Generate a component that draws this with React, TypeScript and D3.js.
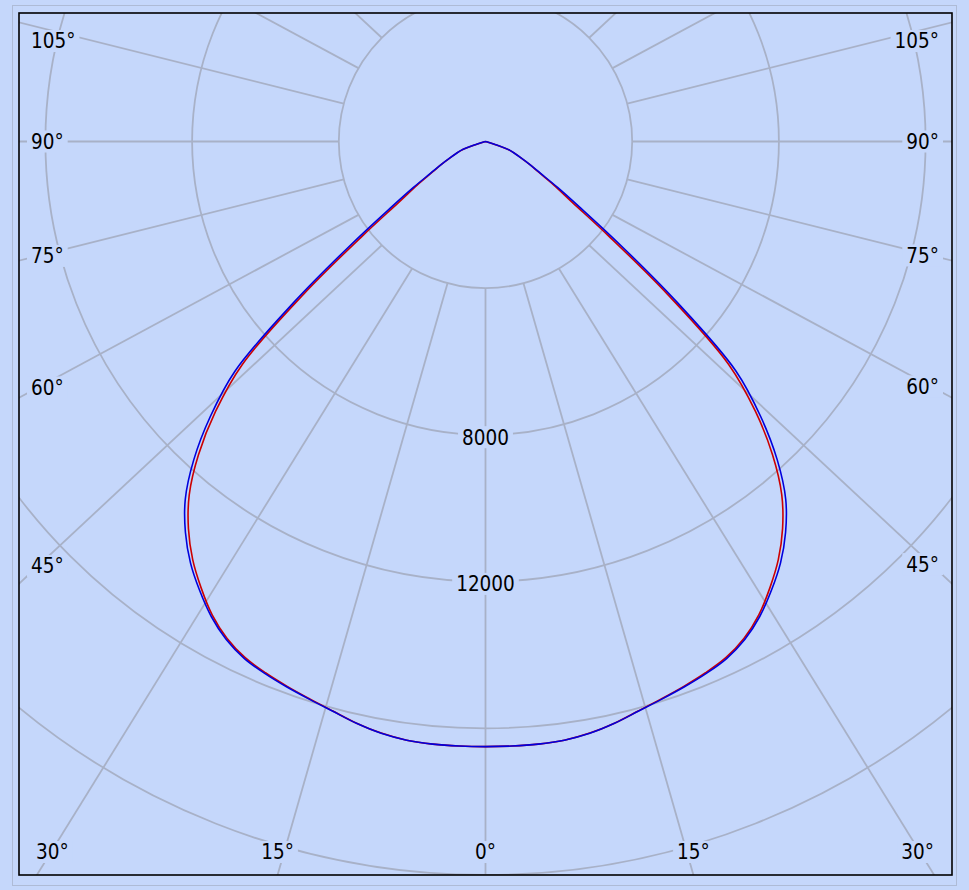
import React from 'react'
import * as d3 from 'd3'

// polar candela diagram, two C-planes (angles from nadir, one half, mirrored)
const gamma = [0, 2.5, 5, 7.5, 10, 12.5, 15, 17.5, 20, 22.5, 25, 27.5, 30, 32.5, 35, 37.5, 40, 42.5, 45, 47.5, 50, 52.5, 55, 57.5, 60, 62.5, 65, 67.5, 70, 72.5, 75, 77.5, 80, 82.5, 85, 87.5, 90]
const redCd = [16500, 16500, 16495, 16465, 16380, 16245, 16077, 15936, 15810, 15679, 15522, 15270, 14905, 14431, 13919, 13306, 12566, 11584, 10410, 8987, 6474, 4235, 2880, 2210, 1675, 1365, 1085, 870, 705, 270, 50, 0, 0, 0, 0, 0, 0]
const blueCd = [16500, 16500, 16495, 16465, 16385, 16250, 16085, 15950, 15830, 15705, 15555, 15310, 14955, 14510, 14025, 13440, 12735, 11775, 10615, 9260, 6815, 4635, 3180, 2330, 1725, 1375, 1090, 875, 710, 275, 55, 0, 0, 0, 0, 0, 0]

const rings = [4000, 8000, 12000, 16000, 20000, 24000]
const ringLabels = [8000, 12000]
const spokes = d3.range(-180, 181, 15)
const angleLabels = [0, 15, 30, 45, 60, 75, 90, 105]

const W = 969, H = 890
const plot = { left: 19, top: 13, right: 952, bottom: 875 }
const cx = (plot.left + plot.right) / 2
const cy = 141.5
const bg = '#c5d7fb'
const gridColor = '#a8b1c7'
const fs = 20.5
const ySquash = 0.94 // spokes come out a bit flatter than the rings

const rScale = d3.scaleLinear().domain([0, 20000]).range([0, plot.bottom - cy])
const rad = (deg: number) => deg * Math.PI / 180

function spokeEnds(deg: number) {
  const a = rad(deg)
  const r0 = rScale(4000)
  const p1 = [cx + r0 * Math.sin(a), cy + r0 * Math.cos(a)]
  const R = 1400
  const p2 = [cx + R * Math.sin(a), cy + R * ySquash * Math.cos(a)]
  return [p1, p2]
}

function textWidth(s: string) {
  let w = 0
  for (const ch of s) w += ch === '°' ? 0.45 * fs : 0.572 * fs
  return w
}

function angleLabelPos(deg: number) {
  const [p1, p2] = spokeEnds(deg)
  const dx = p2[0] - p1[0], dy = p2[1] - p1[1]
  const label = `${Math.abs(deg)}°`
  const w = textWidth(label)
  if (dy > 0) {
    const t = (plot.bottom - p1[1]) / dy
    const x = p1[0] + t * dx
    if (x >= plot.left && x <= plot.right) {
      const xc = Math.max(plot.left + 17 + w / 2, Math.min(plot.right - 18 - w / 2, x))
      return { label, xc, yc: plot.bottom - 23, w }
    }
  }
  const left = dx < 0
  const xs = left ? 38 : W - 38
  const t = (xs - p1[0]) / dx
  let yc = p1[1] + t * dy
  yc = Math.max(plot.top + 28, yc)
  const xc = left ? 31 + w / 2 : 939 - w / 2
  return { label, xc, yc, w }
}

function curvePoints(vals: number[]) {
  const pts: { a: number, v: number }[] = []
  for (let i = gamma.length - 1; i > 0; i--) pts.push({ a: -gamma[i], v: vals[i] })
  for (let i = 0; i < gamma.length; i++) pts.push({ a: gamma[i], v: vals[i] })
  return pts
}

const radialLine = d3.lineRadial<{ a: number, v: number }>()
  .angle(d => Math.PI - rad(d.a))
  .radius(d => rScale(d.v))
  .curve(d3.curveCatmullRom.alpha(0.5))

export default function App() {
  const labels: { label: string, xc: number, yc: number, w: number }[] = []
  angleLabels.forEach(a => {
    labels.push(angleLabelPos(-a))
    if (a !== 0) labels.push(angleLabelPos(a))
  })
  ringLabels.forEach(v => {
    const s = String(v)
    labels.push({ label: s, xc: cx, yc: cy + rScale(v) + 2.3, w: textWidth(s) })
  })

  return (
    <svg width={W} height={H} style={{ position: 'absolute', left: 0, top: 0, display: 'block' }}
      fontFamily="'DejaVu Sans Condensed', 'DejaVu Sans', sans-serif" fontSize={fs}>
      <defs>
        <clipPath id="plotClip">
          <rect x={plot.left} y={plot.top} width={plot.right - plot.left} height={plot.bottom - plot.top} />
        </clipPath>
      </defs>
      <rect x={0} y={0} width={W} height={H} fill={bg} />
      <rect x={12.5} y={5.5} width={944} height={880} fill="none" stroke="#aebbd6" strokeWidth={1} />
      <g clipPath="url(#plotClip)">
        {rings.map(v => (
          <circle key={v} cx={cx} cy={cy} r={rScale(v)} fill="none" stroke={gridColor} strokeWidth={1.8} />
        ))}
        {spokes.map(deg => {
          const [p1, p2] = spokeEnds(deg)
          return <line key={deg} x1={p1[0]} y1={p1[1]} x2={p2[0]} y2={p2[1]} stroke={gridColor} strokeWidth={1.8} />
        })}
        {labels.map((l, i) => (
          <rect key={'b' + i} x={l.xc - l.w / 2 - 4} y={l.yc - 11} width={l.w + 8} height={22} fill={bg} />
        ))}
        {labels.map((l, i) => (
          <text key={'t' + i} x={l.xc} y={l.yc + 0.364 * fs} textAnchor="middle" fill="#000"
            style={{ fontStretch: 'condensed' }}>{l.label}</text>
        ))}
        <g transform={`translate(${cx},${cy})`}>
          <path d={radialLine(curvePoints(redCd)) || ''} fill="none" stroke="#cc0000" strokeWidth={1.6} strokeLinejoin="round" />
          <path d={radialLine(curvePoints(blueCd)) || ''} fill="none" stroke="#0000dd" strokeWidth={1.6} strokeLinejoin="round" />
        </g>
      </g>
      <rect x={plot.left} y={plot.top} width={plot.right - plot.left} height={plot.bottom - plot.top}
        fill="none" stroke="#000" strokeWidth={1.6} />
    </svg>
  )
}
